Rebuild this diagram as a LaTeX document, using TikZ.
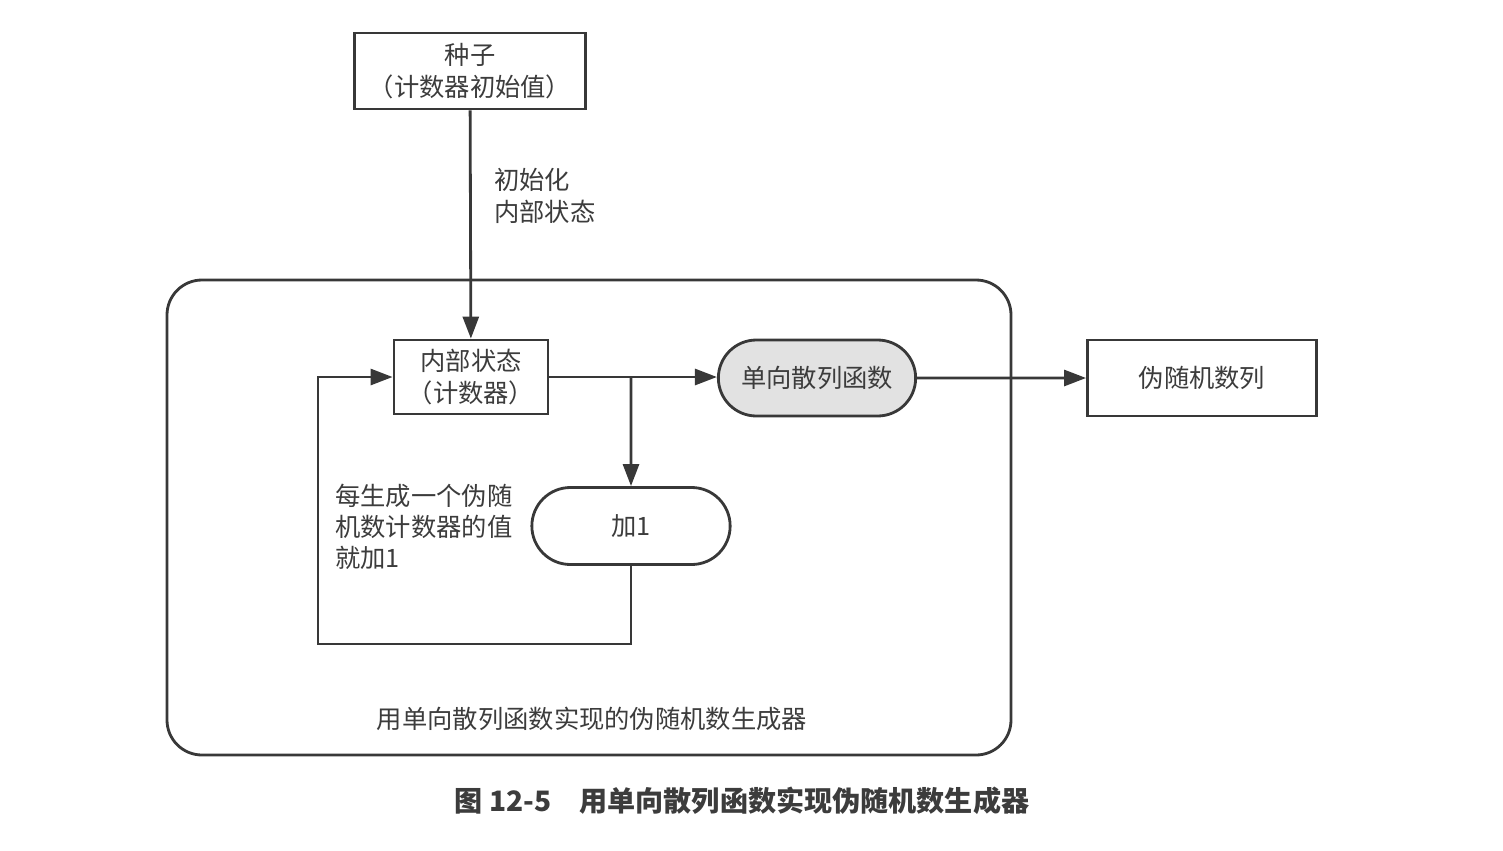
\documentclass[tikz,border=0pt]{standalone}
\usepackage{fontspec}
\newfontfamily\cjk{Noto Sans CJK SC}
\usetikzlibrary{arrows.meta,shapes.misc}
\definecolor{linegray}{HTML}{383838}
\definecolor{textgray}{HTML}{3C3C3C}
\definecolor{fillgray}{HTML}{E2E2E2}
\tikzset{
    box/.style={draw=linegray, line width=1.6pt, rectangle, align=center},
    pill/.style={draw=linegray, line width=1.6pt, rounded rectangle, align=center},
    flow/.style={draw=linegray, line width=1.6pt, -{Triangle[length=4.4mm,width=3.2mm]}},
    plain/.style={draw=linegray, line width=1.6pt}
}
\begin{document}
\begin{tikzpicture}[font=\cjk\fontsize{14.4}{17.8}\selectfont, text=textgray]
    \useasboundingbox (0,0) rectangle (30.06,-17);
    % 外框
    \draw[plain, rounded corners=0.7cm] (3.34,-5.60) rectangle (20.22,-15.10);
    \node (frame) at (11.84,-14.38) {用单向散列函数实现的伪随机数生成器};

    \node[box, minimum width=4.62cm, minimum height=1.52cm] (seed) at (9.40,-1.42) {种子\\（计数器初始值）};
    \node[box, minimum width=3.08cm, minimum height=1.48cm] (state) at (9.42,-7.54) {内部状态\\（计数器）};
    \node[pill, fill=fillgray, minimum width=4.18cm, minimum height=1.52cm] (hash) at (16.34,-7.56) {单向散列函数};
    \node[box, minimum width=4.58cm, minimum height=1.52cm] (output) at (24.04,-7.56) {伪随机数列};
    \node[pill, minimum width=4.20cm, minimum height=1.54cm] (add) at (12.62,-10.52) {加1};

    \node[anchor=west, align=left] (initlabel) at (9.76,-3.92) {初始化\\内部状态};
    \node[anchor=west, align=left] (looplabel) at (6.58,-10.54) {每生成一个伪随\\机数计数器的值\\就加1};

    \coordinate (branch) at (state.east -| add.north);
    \coordinate (loopcorner) at (6.36,-12.88);

    \draw[flow] (seed) -- (state);
    \draw[flow] (state.east) -- (state.east -| hash.west);
    \draw[flow] (hash) -- (output);
    \draw[flow] (branch) -- (add);
    \draw[flow] (add.south) |- (loopcorner) |- (state.west);

    \node[font=\cjk\bfseries\fontsize{16}{18}\selectfont] (caption) at (14.84,-16.02) {图 12-5\quad 用单向散列函数实现伪随机数生成器};
\end{tikzpicture}
\end{document}
